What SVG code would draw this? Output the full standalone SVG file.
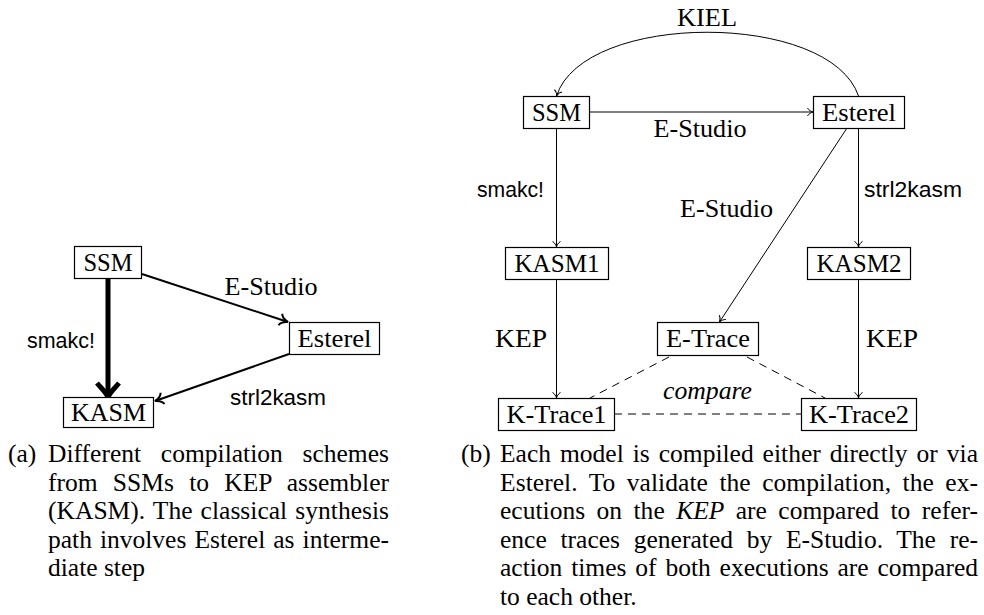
<svg xmlns="http://www.w3.org/2000/svg" width="984" height="615" viewBox="0 0 984 615">
<style>
.bg{fill:#fff}
.box{fill:#fff;stroke:#000;stroke-width:1.2}
.nl{font-family:"Liberation Serif","Times New Roman",serif;font-size:25px;fill:#000;text-anchor:middle}
.sl{font-family:"Liberation Sans",Arial,sans-serif;font-size:22px;fill:#000}
.el{font-family:"Liberation Serif","Times New Roman",serif;font-size:25px;fill:#000}
.cap{font-family:"Liberation Serif","Times New Roman",serif;font-size:25.5px;fill:#000}
.e1{fill:none;stroke:#000;stroke-width:1}
.e2{fill:none;stroke:#000;stroke-width:2}
.dash{fill:none;stroke:#000;stroke-width:1;stroke-dasharray:8 6}
</style>
<defs>
<marker id="arS" markerUnits="userSpaceOnUse" markerWidth="12" markerHeight="12" viewBox="-8 -6 10 12" refX="0" refY="0" orient="auto">
<path d="M-5.5,-4 C-4.5,-1.8 -1.5,-0.4 0,0 C-1.5,0.4 -4.5,1.8 -5.5,4" fill="none" stroke="#000" stroke-width="1"/>
</marker>
<marker id="arM" markerUnits="userSpaceOnUse" markerWidth="16" markerHeight="16" viewBox="-11 -8 13 16" refX="0" refY="0" orient="auto">
<path d="M-8,-6 C-7,-2.5 -2,-0.5 0,0 C-2,0.5 -7,2.5 -8,6" fill="none" stroke="#000" stroke-width="2"/>
</marker>
</defs>
<rect class="bg" x="0" y="0" width="984" height="615"/>

<!-- (a) connectors -->
<g id="edges-a">
<path class="e2" d="M142,274 L288,322" marker-end="url(#arM)"/>
<path class="e2" d="M289,354 L155,401" marker-end="url(#arM)"/>
<path d="M108,278 L108,394" fill="none" stroke="#000" stroke-width="5"/>
<path d="M97,383 C101,388 106,392 108,397 C110,392 115,388 119,383" fill="none" stroke="#000" stroke-width="5" stroke-linejoin="round"/>
<text class="el" x="271" y="295" text-anchor="middle" textLength="93" lengthAdjust="spacingAndGlyphs">E-Studio</text>
<text class="sl" x="27" y="348" textLength="68" lengthAdjust="spacingAndGlyphs">smakc!</text>
<text class="sl" x="230" y="405" textLength="96" lengthAdjust="spacingAndGlyphs">strl2kasm</text>
</g>

<!-- (a) nodes -->
<g id="a-ssm"><rect class="box" x="74.5" y="246.5" width="67" height="32"/><text class="nl" x="108" y="270.5" textLength="49" lengthAdjust="spacingAndGlyphs">SSM</text></g>
<g id="a-esterel"><rect class="box" x="289.5" y="322.5" width="90" height="32"/><text class="nl" x="334.5" y="346.5" textLength="74" lengthAdjust="spacingAndGlyphs">Esterel</text></g>
<g id="a-kasm"><rect class="box" x="63.5" y="397.5" width="90" height="30"/><text class="nl" x="108.5" y="420.5" textLength="75" lengthAdjust="spacingAndGlyphs">KASM</text></g>

<!-- (b) connectors -->
<g id="edges-b">
<path class="e1" d="M858.5,96 C830,11 584,11 556.5,96" marker-end="url(#arS)"/>
<path class="e1" d="M589,112 L813,112" marker-end="url(#arS)"/>
<path class="e1" d="M556.5,128 L556.5,247" marker-end="url(#arS)"/>
<path class="e1" d="M556.5,279 L556.5,398" marker-end="url(#arS)"/>
<path class="e1" d="M858.5,128 L858.5,247" marker-end="url(#arS)"/>
<path class="e1" d="M858.5,279 L858.5,398" marker-end="url(#arS)"/>
<path class="e1" d="M847,128 L719.5,322" marker-end="url(#arS)"/>
<path class="dash" d="M669,357 L590,398"/>
<path class="dash" d="M747,357 L825,398"/>
<path class="dash" d="M614,414 L801,414"/>
<text class="el" x="707" y="26" text-anchor="middle" textLength="60" lengthAdjust="spacingAndGlyphs">KIEL</text>
<text class="el" x="700" y="137" text-anchor="middle" textLength="93" lengthAdjust="spacingAndGlyphs">E-Studio</text>
<text class="el" x="726.5" y="217" text-anchor="middle" textLength="93" lengthAdjust="spacingAndGlyphs">E-Studio</text>
<text class="sl" x="477" y="197" textLength="67" lengthAdjust="spacingAndGlyphs">smakc!</text>
<text class="sl" x="864" y="197" textLength="98" lengthAdjust="spacingAndGlyphs">strl2kasm</text>
<text class="el" x="521" y="347" text-anchor="middle" textLength="52" lengthAdjust="spacingAndGlyphs">KEP</text>
<text class="el" x="892" y="347" text-anchor="middle" textLength="52" lengthAdjust="spacingAndGlyphs">KEP</text>
<text class="el" x="707.5" y="399" text-anchor="middle" font-style="italic" textLength="89" lengthAdjust="spacingAndGlyphs">compare</text>
</g>

<!-- (b) nodes -->
<g id="b-ssm"><rect class="box" x="523.5" y="96.5" width="66" height="32"/><text class="nl" x="556.5" y="120.5" textLength="49" lengthAdjust="spacingAndGlyphs">SSM</text></g>
<g id="b-esterel"><rect class="box" x="813.5" y="96.5" width="91" height="32"/><text class="nl" x="859" y="120.5" textLength="74" lengthAdjust="spacingAndGlyphs">Esterel</text></g>
<g id="b-kasm1"><rect class="box" x="505.5" y="247.5" width="103" height="32"/><text class="nl" x="557" y="271.5" textLength="85" lengthAdjust="spacingAndGlyphs">KASM1</text></g>
<g id="b-kasm2"><rect class="box" x="807.5" y="247.5" width="103" height="32"/><text class="nl" x="859" y="271.5" textLength="85" lengthAdjust="spacingAndGlyphs">KASM2</text></g>
<g id="b-etrace"><rect class="box" x="657.5" y="322.5" width="101" height="33"/><text class="nl" x="708" y="347" textLength="84" lengthAdjust="spacingAndGlyphs">E-Trace</text></g>
<g id="b-ktrace1"><rect class="box" x="498.5" y="398.5" width="116" height="32"/><text class="nl" x="556.5" y="422.5" textLength="100" lengthAdjust="spacingAndGlyphs">K-Trace1</text></g>
<g id="b-ktrace2"><rect class="box" x="801.5" y="398.5" width="115" height="32"/><text class="nl" x="859" y="422.5" textLength="100" lengthAdjust="spacingAndGlyphs">K-Trace2</text></g>

<!-- captions -->
<g id="caption-a" class="cap">
<text x="8" y="462">(a)</text>
<text x="48" y="462" word-spacing="13.2" textLength="341" lengthAdjust="spacing">Different compilation schemes</text>
<text x="48" y="490.5" word-spacing="8.7" textLength="341" lengthAdjust="spacing">from SSMs to KEP assembler</text>
<text x="48" y="519" word-spacing="1.7" textLength="341" lengthAdjust="spacing">(KASM). The classical synthesis</text>
<text x="48" y="547.5" word-spacing="1.7" textLength="341" lengthAdjust="spacing">path involves Esterel as interme-</text>
<text x="48" y="576">diate step</text>
</g>
<g id="caption-b" class="cap">
<text x="461" y="462">(b)</text>
<text x="500" y="462" word-spacing="2.6" textLength="478" lengthAdjust="spacing">Each model is compiled either directly or via</text>
<text x="500" y="490.5" word-spacing="5" textLength="478" lengthAdjust="spacing">Esterel. To validate the compilation, the ex-</text>
<text x="500" y="519" word-spacing="5" textLength="478" lengthAdjust="spacing">ecutions on the <tspan font-style="italic">KEP</tspan> are compared to refer-</text>
<text x="500" y="547.5" word-spacing="7.3" textLength="478" lengthAdjust="spacing">ence traces generated by E-Studio. The re-</text>
<text x="500" y="576" word-spacing="2.5" textLength="478" lengthAdjust="spacing">action times of both executions are compared</text>
<text x="500" y="604.5">to each other.</text>
</g>
</svg>
